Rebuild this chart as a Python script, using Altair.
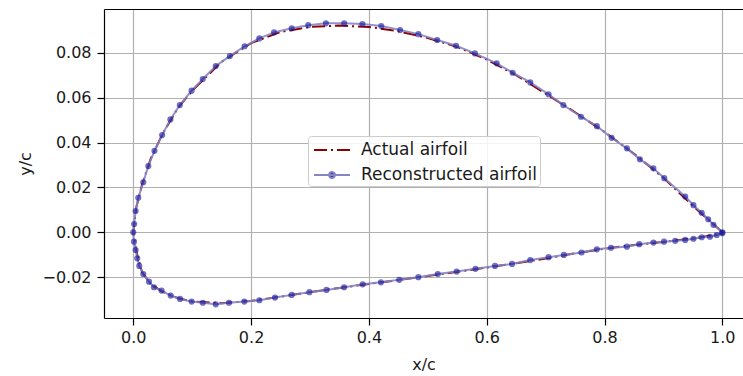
import altair as alt
import pandas as pd

# Reconstructed airfoil points (trailing edge -> upper -> leading edge -> lower -> trailing edge)
recon_x = [1.000, 0.985, 0.976, 0.965, 0.951, 0.937, 0.9015, 0.883, 0.860, 0.838, 0.812, 0.787,
           0.760, 0.730, 0.705, 0.674, 0.644, 0.617, 0.580, 0.548, 0.516, 0.484, 0.453, 0.421,
           0.389, 0.358, 0.327, 0.297, 0.269, 0.239, 0.214, 0.189, 0.164, 0.140, 0.118, 0.099,
           0.079, 0.063, 0.049, 0.036, 0.0255, 0.017, 0.0085, 0.004, 0.0015, 0.000,
           0.0012, 0.004, 0.0068, 0.0102, 0.017, 0.0267, 0.0351, 0.048, 0.0635, 0.0793, 0.0991,
           0.118, 0.140, 0.1625, 0.1885, 0.214, 0.2406, 0.269, 0.299, 0.328, 0.358, 0.3895,
           0.4205, 0.4516, 0.484, 0.517, 0.549, 0.581, 0.614, 0.643, 0.674, 0.705, 0.731, 0.761,
           0.787, 0.811, 0.838, 0.859, 0.883, 0.901, 0.920, 0.937, 0.951, 0.965, 0.979, 0.9905, 1.000]
recon_y = [0.0000, 0.0033, 0.0058, 0.0087, 0.0121, 0.0159, 0.0241, 0.0285, 0.0325, 0.0374, 0.0421, 0.0473,
           0.0515, 0.0567, 0.0615, 0.0668, 0.0711, 0.0753, 0.0797, 0.0831, 0.0857, 0.0883, 0.0901, 0.0919,
           0.0928, 0.0931, 0.0931, 0.0923, 0.0909, 0.0891, 0.0864, 0.0829, 0.0785, 0.0741, 0.0683, 0.0631,
           0.0567, 0.0503, 0.0433, 0.0363, 0.0295, 0.0223, 0.0154, 0.0095, 0.0037, 0.0000,
           -0.0042, -0.0079, -0.0116, -0.0150, -0.0186, -0.0220, -0.0245, -0.0260, -0.0282, -0.0297, -0.0309,
           -0.0314, -0.0321, -0.0314, -0.0309, -0.0303, -0.0291, -0.0279, -0.0267, -0.0257, -0.0245, -0.0232,
           -0.0223, -0.0212, -0.0200, -0.0186, -0.0175, -0.0163, -0.0150, -0.0141, -0.0124, -0.0111, -0.0101, -0.0090,
           -0.0076, -0.0069, -0.0064, -0.0053, -0.0046, -0.0042, -0.0038, -0.0034, -0.0029, -0.0022, -0.0020, -0.0012, -0.0004]

# Actual airfoil
actual_x = [1.0, 0.95, 0.90, 0.85, 0.80, 0.75, 0.70, 0.65, 0.60, 0.55, 0.50, 0.45, 0.40, 0.35, 0.30,
            0.25, 0.20, 0.15, 0.10, 0.075, 0.05, 0.03, 0.015, 0.005, 0.0,
            0.005, 0.015, 0.03, 0.05, 0.075, 0.10, 0.15, 0.20, 0.25, 0.30, 0.35, 0.40, 0.45, 0.50,
            0.55, 0.60, 0.65, 0.70, 0.75, 0.80, 0.85, 0.90, 0.95, 1.0]
actual_y = [0.0, 0.0118, 0.0243, 0.0350, 0.0447, 0.0535, 0.0618, 0.0700, 0.0770, 0.0826, 0.0866, 0.0896,
            0.0915, 0.0921, 0.0915, 0.0893, 0.0843, 0.0760, 0.0631, 0.0551, 0.0440, 0.0330, 0.0213, 0.0110, 0.0,
            -0.0085, -0.0178, -0.0232, -0.0265, -0.0293, -0.0309, -0.0316, -0.0306, -0.0287, -0.0267, -0.0248,
            -0.0230, -0.0213, -0.0195, -0.0176, -0.0157, -0.0138, -0.0117, -0.0094, -0.0073, -0.0057, -0.0043,
            -0.0028, -0.0005]

x_ticks = [0.0, 0.2, 0.4, 0.6, 0.8, 1.0]
y_ticks = [-0.02, 0.0, 0.02, 0.04, 0.06, 0.08]
series_names = ["Actual airfoil", "Reconstructed airfoil"]

df_a = pd.DataFrame({"x": actual_x, "y": actual_y, "i": list(range(len(actual_x))),
                     "series": series_names[0]})
df_r = pd.DataFrame({"x": recon_x, "y": recon_y, "i": list(range(len(recon_x))),
                     "series": series_names[1]})

FONT = "DejaVu Sans"
xs = alt.Scale(domain=[-0.0497, 1.0351], nice=False, zero=False)
ys = alt.Scale(domain=[-0.0382, 0.0995], nice=False, zero=False)

x_bottom = alt.X("x:Q", scale=xs, title="x/c",
                 axis=alt.Axis(values=x_ticks, format=".1f", tickSize=7, labelPadding=4,
                               titlePadding=11, grid=True, domainColor="#000", tickColor="#000",
                               domainWidth=1.2, tickWidth=1.2))
x_top = alt.X("x:Q", scale=xs, title=None,
              axis=alt.Axis(orient="top", labels=False, ticks=False, grid=False,
                            domainColor="#000", domainWidth=1.2))
x_none = alt.X("x:Q", scale=xs, axis=None)
y_enc = alt.Y("y:Q", scale=ys, title="y/c",
              axis=alt.Axis(values=y_ticks, format=".2f", tickSize=7, labelPadding=6,
                            titlePadding=8, grid=True, domainColor="#000", tickColor="#000",
                            domainWidth=1.2, tickWidth=1.2))

is_rec = "datum.value === 'Reconstructed airfoil'"
legend = alt.Legend(
    title=None, orient="none", legendX=204, legendY=127,
    symbolType=alt.ExprRef(expr=is_rec + " ? 'M-1.8,0H1.8M-0.3,0A0.3,0.3,0,1,0,0.3,0A0.3,0.3,0,1,0,-0.3,0' : 'M-1.8,0H1.8'"),
    symbolDash=alt.ExprRef(expr=is_rec + " ? [1,0] : [13,4,2,4]"),
    symbolFillColor=alt.ExprRef(expr=is_rec + " ? '#3a3aa0' : 'transparent'"),
    symbolSize=400, symbolStrokeWidth=2, symbolOpacity=1,
    labelFont=FONT, labelFontSize=17, labelColor="#1a1a1a", labelOffset=18, labelLimit=400,
    fillColor="rgba(255,255,255,0.85)", strokeColor="#cccccc", cornerRadius=3,
    padding=3, rowPadding=6, symbolOffset=10,
)
color = alt.Color("series:N", scale=alt.Scale(domain=series_names, range=["#8b0000", "#8585c8"]),
                  legend=legend)

actual = alt.Chart(df_a).mark_line(strokeWidth=2, strokeDash=[13, 4, 2, 4], clip=True).encode(
    x=x_bottom, y=y_enc, order="i:Q", color=color)
recon = alt.Chart(df_r).mark_line(strokeWidth=2, opacity=0.9, clip=True).encode(
    x=x_top, y=y_enc, order="i:Q", color=color)
dots = alt.Chart(df_r).mark_circle(size=38, opacity=0.6, color="#10109a", clip=True).encode(
    x=x_none, y=y_enc)

chart = alt.layer(actual, recon, dots).resolve_axis(x="independent").properties(
    width=639, height=309,
    padding={"left": 104, "top": 9, "right": 0, "bottom": 58},
    autosize=alt.AutoSizeParams(type="none"),
).configure_view(stroke=None).configure_axis(
    labelFont=FONT, titleFont=FONT, labelFontSize=16, titleFontSize=16,
    titleFontWeight="normal", labelColor="#1a1a1a", titleColor="#1a1a1a",
    gridColor="#b0b0b0", gridWidth=1.2,
)

chart.save("out.html", embed_options={"renderer": "svg", "actions": False})
